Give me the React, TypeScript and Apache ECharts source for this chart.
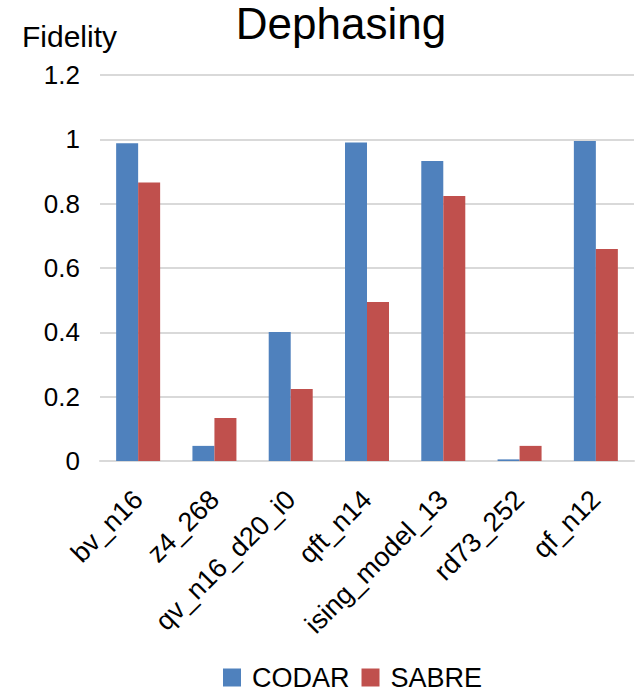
import React, { useEffect, useRef } from "react";
import * as echarts from "echarts";

const categories = ["bv_n16", "z4_268", "qv_n16_d20_i0", "qft_n14", "ising_model_13", "rd73_252", "qf_n12"];
const codar = [0.988, 0.047, 0.401, 0.99, 0.933, 0.005, 0.995];
const sabre = [0.866, 0.134, 0.224, 0.494, 0.824, 0.047, 0.659];
const yTicks = [0, 0.2, 0.4, 0.6, 0.8, 1, 1.2];

const FONT = "Liberation Sans, Arial, sans-serif";

export default function App() {
  const ref = useRef<HTMLDivElement>(null);
  useEffect(() => {
    document.body.style.margin = "0";
    if (!ref.current) return;
    const chart = echarts.init(ref.current, undefined, { renderer: "svg" });
    chart.setOption({
      animation: false,
      textStyle: { fontFamily: FONT },
      title: [
        {
          text: "Dephasing",
          left: 336,
          textAlign: "center",
          top: -4,
          textStyle: { fontFamily: FONT, fontSize: 44, fontWeight: "normal", color: "#000" },
        },
        {
          text: "Fidelity",
          left: 17,
          top: 16,
          textStyle: { fontFamily: FONT, fontSize: 30, fontWeight: "normal", color: "#000" },
        },
      ],
      legend: {
        data: ["CODAR", "SABRE"],
        top: 659,
        left: 218,
        itemWidth: 18,
        itemHeight: 18,
        itemGap: 12,
        icon: "rect",
        textStyle: { fontFamily: FONT, fontSize: 27, color: "#000", padding: [0, 0, 0, 6] },
      },
      grid: { left: 100, right: 7, top: 75, bottom: 231, containLabel: false },
      xAxis: {
        type: "category",
        data: categories,
        axisTick: { show: false },
        axisLine: { lineStyle: { color: "#D9D9D9", width: 2 } },
        axisLabel: { rotate: 45, fontFamily: FONT, fontSize: 27, color: "#000", margin: 34, interval: 0 },
      },
      yAxis: {
        type: "value",
        min: 0,
        max: 1.2,
        interval: 0.2,
        axisLine: { show: false },
        axisTick: { show: false },
        splitLine: { lineStyle: { color: "#D9D9D9", width: 2 } },
        axisLabel: {
          fontFamily: FONT,
          fontSize: 26,
          color: "#000",
          margin: 20,
          formatter: (v: number) => {
            const t = yTicks.find((x) => Math.abs(x - v) < 1e-9);
            return t === undefined ? "" : String(t);
          },
        },
      },
      series: [
        { name: "CODAR", type: "bar", data: codar, barWidth: 22, barGap: "0%", itemStyle: { color: "#4F81BD" } },
        { name: "SABRE", type: "bar", data: sabre, barWidth: 22, barGap: "0%", itemStyle: { color: "#C0504D" } },
      ],
    });
    return () => chart.dispose();
  }, []);
  return <div ref={ref} style={{ width: 641, height: 692 }} />;
}
